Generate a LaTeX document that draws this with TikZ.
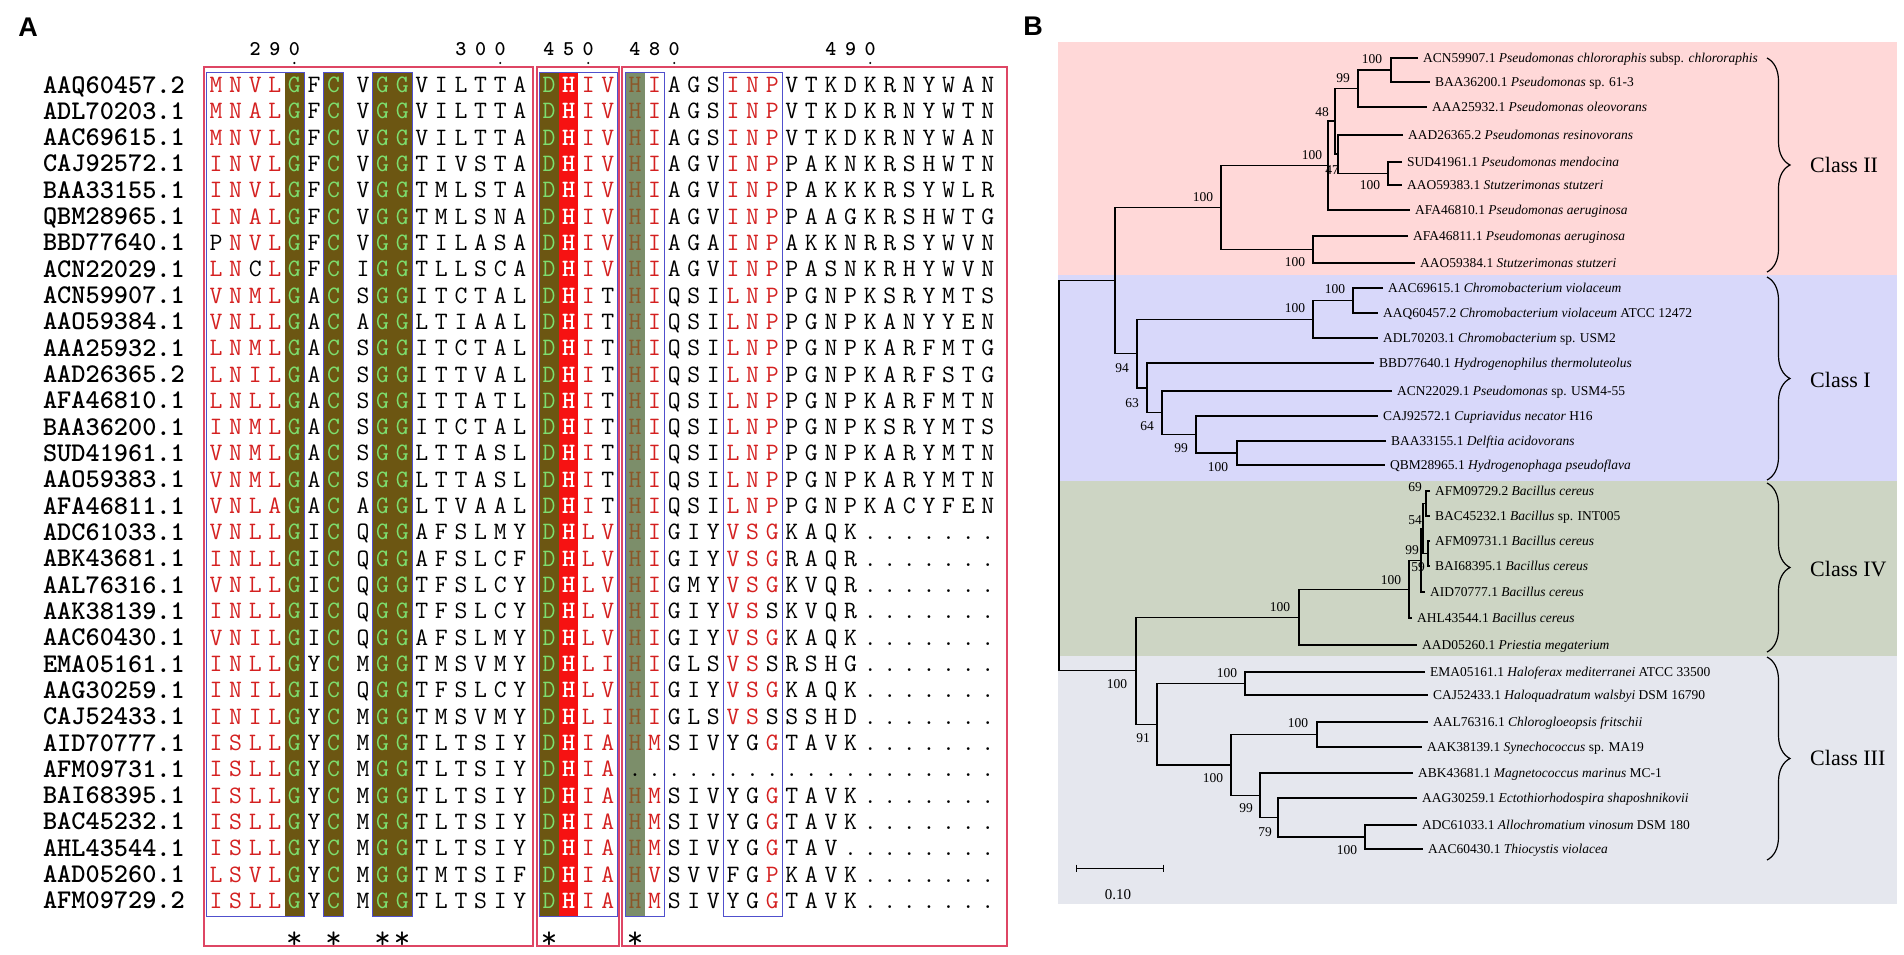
\documentclass[tikz,border=0pt]{standalone}
\usepackage{fontspec}
\setmainfont{Liberation Serif}
\newfontfamily\panelfont{Liberation Sans}
\usetikzlibrary{decorations.pathreplacing}

\definecolor{seqred}{RGB}{212,32,32}
\definecolor{seqgreen}{RGB}{125,222,110}
\definecolor{olivebg}{RGB}{108,86,18}
\definecolor{hisbg}{RGB}{246,18,18}
\definecolor{sagebg}{RGB}{124,142,106}
\definecolor{sageletter}{RGB}{140,86,40}
\definecolor{boxred}{RGB}{222,70,100}
\definecolor{boxblue}{RGB}{80,80,205}
\definecolor{classII}{RGB}{255,216,216}
\definecolor{classI}{RGB}{216,216,250}
\definecolor{classIV}{RGB}{205,213,196}
\definecolor{classIII}{RGB}{229,231,238}

\tikzset{
  res/.style={inner sep=0pt, text height=15pt, text depth=0pt, font=\fontsize{25}{25}\selectfont\ttfamily},
  resbold/.style={res, font=\fontsize{25}{25}\selectfont\ttfamily\bfseries},
  colnum/.style={inner sep=0pt, text height=12.5pt, text depth=0pt, font=\fontsize{21}{21}\selectfont\ttfamily\bfseries},
  starmark/.style={inner sep=0pt, text height=14.5pt, text depth=0pt, font=\fontsize{32}{32}\selectfont\ttfamily},
  seqname/.style={anchor=east, inner sep=0pt, text height=16pt, text depth=0pt, font=\fontsize{27}{27}\selectfont\ttfamily\bfseries},
  simbox/.style={draw=boxblue, line width=0.9pt},
  blockbox/.style={draw=boxred, line width=1.2pt},
  panellbl/.style={inner sep=0pt, font=\fontsize{27}{27}\selectfont\panelfont\bfseries},
  leafname/.style={anchor=west, inner xsep=5pt, inner ysep=0pt, text height=9.5pt, text depth=1pt, font=\fontsize{13.5}{14}\selectfont},
  boot/.style={inner sep=0pt, font=\fontsize{13.5}{14}\selectfont},
  edgeline/.style={line width=1.2pt},
  classlbl/.style={anchor=west, inner sep=0pt, font=\fontsize{22}{22}\selectfont},
  classbrace/.style={decorate, decoration={brace, amplitude=23pt}, line width=1.2pt}
}

\def\tK{tK}
\def\tR{tR}
\newcount\resnode
\newcommand\colx[1]{%
  \ifnum#1<7 \pgfmathsetmacro\resx{216+19.6*#1}%
  \else\ifnum#1<16 \pgfmathsetmacro\resx{363+19.6*(#1-7)}%
  \else\ifnum#1<20 \pgfmathsetmacro\resx{549+19.6*(#1-16)}%
  \else\pgfmathsetmacro\resx{635+19.6*(#1-20)}\fi\fi\fi}
\newcommand\resrun[5][res]{%
  \tikzset{resnow/.style={#1}}%
  \colx{#3}\pgfmathsetmacro\resy{#2}\def\rescol{#4}%
  \resloop#5\relax}
\def\resloop#1{%
  \ifx#1\relax\else
    \ifx#1\tK\def\rescol{black}\else
    \ifx#1\tR\def\rescol{seqred}\else
      \global\advance\resnode by 1
      \node[resnow, text=\rescol] (res\the\resnode) at (\resx,\resy) {#1};%
      \pgfmathsetmacro\resx{\resx+19.6}%
    \fi\fi
    \expandafter\resloop
  \fi}
\newcommand\alnrow[9]{%
  \pgfmathsetmacro\rowy{85+26.32*#1}%
  \resrun{\rowy}{0}{seqred}{#2}%
  \resrun{\rowy}{5}{black}{#3}%
  \resrun{\rowy}{7}{black}{#4}%
  \resrun{\rowy}{10}{black}{#5}%
  \resrun{\rowy}{18}{seqred}{#6}%
  \resrun{\rowy}{21}{seqred}{#7}%
  \resrun{\rowy}{25}{seqred}{#8}%
  \resrun{\rowy}{28}{black}{#9}}

\begin{document}
\begin{tikzpicture}[x=1pt,y=-1pt]
\useasboundingbox (0,0) rectangle (1904,954);

\node[panellbl] (pA) at (28,27) {A};
\node[panellbl] (pB) at (1033,26) {B};

% alignment
\fill[olivebg] (284.6,72) rectangle (304.2,916);
\fill[olivebg] (323.8,72) rectangle (343.4,916);
\fill[olivebg] (372.8,72) rectangle (412,916);
\fill[olivebg] (539.2,72) rectangle (558.8,916);
\fill[hisbg] (558.8,72) rectangle (578.4,916);
\fill[sagebg] (625.2,72) rectangle (644.8,916);
\draw[simbox] (206,72) rectangle (304.2,916);
\draw[simbox] (323.8,72) rectangle (343.4,916);
\draw[simbox] (372.8,72) rectangle (412,916);
\draw[simbox] (539.2,72) rectangle (617,916);
\draw[simbox] (625.2,72) rectangle (664.4,916);
\draw[simbox] (723.2,72) rectangle (782,916);
\draw[blockbox] (204,67) rectangle (533,946);
\draw[blockbox] (537,67) rectangle (619,946);
\draw[blockbox] (622,67) rectangle (1007,946);

\resrun[colnum]{49}{2}{black}{290}
\resrun[colnum]{49}{12}{black}{300}
\resrun[colnum]{49}{16}{black}{450}
\resrun[colnum]{49}{20}{black}{480}
\resrun[colnum]{49}{30}{black}{490}
\foreach \x in {294.4,500.2,588.2,674.2,870.2}
  \fill (\x,63) circle (1.2);

\foreach \n [count=\i from 0] in {AAQ60457.2,ADL70203.1,AAC69615.1,CAJ92572.1,BAA33155.1,QBM28965.1,BBD77640.1,ACN22029.1,ACN59907.1,AAO59384.1,AAA25932.1,AAD26365.2,AFA46810.1,BAA36200.1,SUD41961.1,AAO59383.1,AFA46811.1,ADC61033.1,ABK43681.1,AAL76316.1,AAK38139.1,AAC60430.1,EMA05161.1,AAG30259.1,CAJ52433.1,AID70777.1,AFM09731.1,BAI68395.1,BAC45232.1,AHL43544.1,AAD05260.1,AFM09729.2}
  \node[seqname] (acc\i) at (185,85+26.32*\i) {\n};

\foreach \i in {0,...,31}{
  \pgfmathsetmacro\rowy{85+26.32*\i}
  \resrun{\rowy}{4}{seqgreen}{G}
  \resrun{\rowy}{6}{seqgreen}{C}
  \resrun{\rowy}{8}{seqgreen}{GG}
  \resrun{\rowy}{16}{seqgreen}{D}
  \resrun[resbold]{\rowy}{17}{white}{H}
}
\foreach \i in {0,...,25,27,28,29,30,31}{
  \pgfmathsetmacro\rowy{85+26.32*\i}
  \resrun{\rowy}{20}{sageletter}{H}
}
\resrun{85+26.32*26}{20}{black}{.}

\alnrow{0}{MNVL}{F}{V}{VILTTA}{IV}{I\tK AGS}{INP}{VTKDKRNYWAN}
\alnrow{1}{MNAL}{F}{V}{VILTTA}{IV}{I\tK AGS}{INP}{VTKDKRNYWTN}
\alnrow{2}{MNVL}{F}{V}{VILTTA}{IV}{I\tK AGS}{INP}{VTKDKRNYWAN}
\alnrow{3}{INVL}{F}{V}{TIVSTA}{IV}{I\tK AGV}{INP}{PAKNKRSHWTN}
\alnrow{4}{INVL}{F}{V}{TMLSTA}{IV}{I\tK AGV}{INP}{PAKKKRSYWLR}
\alnrow{5}{INAL}{F}{V}{TMLSNA}{IV}{I\tK AGV}{INP}{PAAGKRSHWTG}
\alnrow{6}{\tK P\tR NVL}{F}{V}{TILASA}{IV}{I\tK AGA}{INP}{AKKNRRSYWVN}
\alnrow{7}{LN\tK C\tR L}{F}{I}{TLLSCA}{IV}{I\tK AGV}{INP}{PASNKRHYWVN}
\alnrow{8}{VNML}{A}{S}{ITCTAL}{I\tK T}{I\tK QSI}{LNP}{PGNPKSRYMTS}
\alnrow{9}{VNLL}{A}{A}{LTIAAL}{I\tK T}{I\tK QSI}{LNP}{PGNPKANYYEN}
\alnrow{10}{LNML}{A}{S}{ITCTAL}{I\tK T}{I\tK QSI}{LNP}{PGNPKARFMTG}
\alnrow{11}{LNIL}{A}{S}{ITTVAL}{I\tK T}{I\tK QSI}{LNP}{PGNPKARFSTG}
\alnrow{12}{LNLL}{A}{S}{ITTATL}{I\tK T}{I\tK QSI}{LNP}{PGNPKARFMTN}
\alnrow{13}{INML}{A}{S}{ITCTAL}{I\tK T}{I\tK QSI}{LNP}{PGNPKSRYMTS}
\alnrow{14}{VNML}{A}{S}{LTTASL}{I\tK T}{I\tK QSI}{LNP}{PGNPKARYMTN}
\alnrow{15}{VNML}{A}{S}{LTTASL}{I\tK T}{I\tK QSI}{LNP}{PGNPKARYMTN}
\alnrow{16}{VNLA}{A}{A}{LTVAAL}{I\tK T}{I\tK QSI}{LNP}{PGNPKACYFEN}
\alnrow{17}{VNLL}{I}{Q}{AFSLMY}{LV}{I\tK GIY}{VSG}{KAQK.......}
\alnrow{18}{INLL}{I}{Q}{AFSLCF}{LV}{I\tK GIY}{VSG}{RAQR.......}
\alnrow{19}{VNLL}{I}{Q}{TFSLCY}{LV}{I\tK GMY}{VSG}{KVQR.......}
\alnrow{20}{INLL}{I}{Q}{TFSLCY}{LV}{I\tK GIY}{VS\tK S}{KVQR.......}
\alnrow{21}{VNIL}{I}{Q}{AFSLMY}{LV}{I\tK GIY}{VSG}{KAQK.......}
\alnrow{22}{INLL}{Y}{M}{TMSVMY}{LI}{I\tK GLS}{VS\tK S}{RSHG.......}
\alnrow{23}{INIL}{I}{Q}{TFSLCY}{LV}{I\tK GIY}{VSG}{KAQK.......}
\alnrow{24}{INIL}{Y}{M}{TMSVMY}{LI}{I\tK GLS}{VS\tK S}{SSHD.......}
\alnrow{25}{ISLL}{Y}{M}{TLTSIY}{IA}{M\tK SIV}{\tK YG\tR G}{TAVK.......}
\alnrow{26}{ISLL}{Y}{M}{TLTSIY}{IA}{\tK ....}{\tK ...}{...........}
\alnrow{27}{ISLL}{Y}{M}{TLTSIY}{IA}{M\tK SIV}{\tK YG\tR G}{TAVK.......}
\alnrow{28}{ISLL}{Y}{M}{TLTSIY}{IA}{M\tK SIV}{\tK YG\tR G}{TAVK.......}
\alnrow{29}{ISLL}{Y}{M}{TLTSIY}{IA}{M\tK SIV}{\tK YG\tR G}{TAV........}
\alnrow{30}{LSVL}{Y}{M}{TMTSIF}{IA}{V\tK SVV}{\tK FG\tR P}{KAVK.......}
\alnrow{31}{ISLL}{Y}{M}{TLTSIY}{IA}{M\tK SIV}{\tK YG\tR G}{TAVK.......}

\resrun[starmark]{941}{4}{black}{*}
\resrun[starmark]{941}{6}{black}{*}
\resrun[starmark]{941}{8}{black}{**}
\resrun[starmark]{941}{16}{black}{*}
\resrun[starmark]{941}{20}{black}{*}

% tree
\fill[classII] (1058,42) rectangle (1897,275);
\fill[classI] (1058,275) rectangle (1897,481);
\fill[classIV] (1058,481) rectangle (1897,656);
\fill[classIII] (1058,656) rectangle (1897,904);

\node[leafname] (lACN59907) at (1418,58) {ACN59907.1 \textit{Pseudomonas chlororaphis} subsp. \textit{chlororaphis}};
\node[leafname] (lBAA36200) at (1430,82) {BAA36200.1 \textit{Pseudomonas} sp. 61-3};
\node[leafname] (lAAA25932) at (1427,107) {AAA25932.1 \textit{Pseudomonas oleovorans}};
\node[leafname] (lAAD26365) at (1403,135) {AAD26365.2 \textit{Pseudomonas resinovorans}};
\node[leafname] (lSUD41961) at (1402,162) {SUD41961.1 \textit{Pseudomonas mendocina}};
\node[leafname] (lAAO59383) at (1402,185) {AAO59383.1 \textit{Stutzerimonas stutzeri}};
\node[leafname] (lAFA46810) at (1410,210) {AFA46810.1 \textit{Pseudomonas aeruginosa}};
\node[leafname] (lAFA46811) at (1408,236) {AFA46811.1 \textit{Pseudomonas aeruginosa}};
\node[leafname] (lAAO59384) at (1415,263) {AAO59384.1 \textit{Stutzerimonas stutzeri}};
\node[leafname] (lAAC69615) at (1383,288) {AAC69615.1 \textit{Chromobacterium violaceum}};
\node[leafname] (lAAQ60457) at (1378,313) {AAQ60457.2 \textit{Chromobacterium violaceum} ATCC 12472};
\node[leafname] (lADL70203) at (1378,338) {ADL70203.1 \textit{Chromobacterium} sp. USM2};
\node[leafname] (lBBD77640) at (1374,363) {BBD77640.1 \textit{Hydrogenophilus thermoluteolus}};
\node[leafname] (lACN22029) at (1392,391) {ACN22029.1 \textit{Pseudomonas} sp. USM4-55};
\node[leafname] (lCAJ92572) at (1378,416) {CAJ92572.1 \textit{Cupriavidus necator} H16};
\node[leafname] (lBAA33155) at (1386,441) {BAA33155.1 \textit{Delftia acidovorans}};
\node[leafname] (lQBM28965) at (1385,465) {QBM28965.1 \textit{Hydrogenophaga pseudoflava}};
\node[leafname] (lAFM09729) at (1430,491) {AFM09729.2 \textit{Bacillus cereus}};
\node[leafname] (lBAC45232) at (1430,516) {BAC45232.1 \textit{Bacillus} sp. INT005};
\node[leafname] (lAFM09731) at (1430,541) {AFM09731.1 \textit{Bacillus cereus}};
\node[leafname] (lBAI68395) at (1430,566) {BAI68395.1 \textit{Bacillus cereus}};
\node[leafname] (lAID70777) at (1425,592) {AID70777.1 \textit{Bacillus cereus}};
\node[leafname] (lAHL43544) at (1412,618) {AHL43544.1 \textit{Bacillus cereus}};
\node[leafname] (lAAD05260) at (1417,645) {AAD05260.1 \textit{Priestia megaterium}};
\node[leafname] (lEMA05161) at (1425,672) {EMA05161.1 \textit{Haloferax mediterranei} ATCC 33500};
\node[leafname] (lCAJ52433) at (1428,695) {CAJ52433.1 \textit{Haloquadratum walsbyi} DSM 16790};
\node[leafname] (lAAL76316) at (1428,722) {AAL76316.1 \textit{Chlorogloeopsis fritschii}};
\node[leafname] (lAAK38139) at (1422,747) {AAK38139.1 \textit{Synechococcus} sp. MA19};
\node[leafname] (lABK43681) at (1413,773) {ABK43681.1 \textit{Magnetococcus marinus} MC-1};
\node[leafname] (lAAG30259) at (1417,798) {AAG30259.1 \textit{Ectothiorhodospira shaposhnikovii}};
\node[leafname] (lADC61033) at (1417,825) {ADC61033.1 \textit{Allochromatium vinosum} DSM 180};
\node[leafname] (lAAC60430) at (1423,849) {AAC60430.1 \textit{Thiocystis violacea}};

\coordinate (nII1) at (1391,70);
\coordinate (nII2) at (1358,88.5);
\coordinate (nII3) at (1388,173.5);
\coordinate (nII4) at (1338,154);
\coordinate (nII5) at (1335,121);
\coordinate (nII6) at (1328,165.5);
\coordinate (nII7) at (1313,249.5);
\coordinate (nII8) at (1221,207.5);
\coordinate (nIa) at (1353,300.5);
\coordinate (nIb) at (1313,319.2);
\coordinate (nIc) at (1237,453);
\coordinate (nId) at (1196,434.5);
\coordinate (nIe) at (1162,412.7);
\coordinate (nIf) at (1147,387.9);
\coordinate (nIg) at (1137,353.6);
\coordinate (nA) at (1115,280.5);
\coordinate (nIVa) at (1426,503.5);
\coordinate (nIVb) at (1428,553.5);
\coordinate (nIVc) at (1423,528.5);
\coordinate (nIVd) at (1421,560.2);
\coordinate (nIVe) at (1409,589.1);
\coordinate (nIVf) at (1299,617.1);
\coordinate (nIIIa) at (1245,683.5);
\coordinate (nIIIb) at (1317,734.5);
\coordinate (nIIIc) at (1365,837);
\coordinate (nIIId) at (1278,817.5);
\coordinate (nIIIe) at (1260,795.2);
\coordinate (nIIIf) at (1231,764.9);
\coordinate (nIIIg) at (1157,724.2);
\coordinate (nM) at (1136,670.6);
\coordinate (nRoot) at (1059,475.6);

\draw[edgeline] (lACN59907.west) -| (nII1) |- (lBAA36200.west);
\draw[edgeline] (nII1) -| (nII2) |- (lAAA25932.west);
\draw[edgeline] (lSUD41961.west) -| (nII3) |- (lAAO59383.west);
\draw[edgeline] (lAAD26365.west) -| (nII4) |- (nII3);
\draw[edgeline] (nII2) -| (nII5) |- (nII4);
\draw[edgeline] (nII5) -| (nII6) |- (lAFA46810.west);
\draw[edgeline] (lAFA46811.west) -| (nII7) |- (lAAO59384.west);
\draw[edgeline] (nII6) -| (nII8) |- (nII7);
\draw[edgeline] (lAAC69615.west) -| (nIa) |- (lAAQ60457.west);
\draw[edgeline] (nIa) -| (nIb) |- (lADL70203.west);
\draw[edgeline] (lBAA33155.west) -| (nIc) |- (lQBM28965.west);
\draw[edgeline] (lCAJ92572.west) -| (nId) |- (nIc);
\draw[edgeline] (lACN22029.west) -| (nIe) |- (nId);
\draw[edgeline] (lBBD77640.west) -| (nIf) |- (nIe);
\draw[edgeline] (nIb) -| (nIg) |- (nIf);
\draw[edgeline] (nII8) -| (nA) |- (nIg);
\draw[edgeline] (lAFM09729.west) -| (nIVa) |- (lBAC45232.west);
\draw[edgeline] (lAFM09731.west) -| (nIVb) |- (lBAI68395.west);
\draw[edgeline] (nIVa) -| (nIVc) |- (nIVb);
\draw[edgeline] (nIVc) -| (nIVd) |- (lAID70777.west);
\draw[edgeline] (nIVd) -| (nIVe) |- (lAHL43544.west);
\draw[edgeline] (nIVe) -| (nIVf) |- (lAAD05260.west);
\draw[edgeline] (lEMA05161.west) -| (nIIIa) |- (lCAJ52433.west);
\draw[edgeline] (lAAL76316.west) -| (nIIIb) |- (lAAK38139.west);
\draw[edgeline] (lADC61033.west) -| (nIIIc) |- (lAAC60430.west);
\draw[edgeline] (lAAG30259.west) -| (nIIId) |- (nIIIc);
\draw[edgeline] (lABK43681.west) -| (nIIIe) |- (nIIId);
\draw[edgeline] (nIIIb) -| (nIIIf) |- (nIIIe);
\draw[edgeline] (nIIIa) -| (nIIIg) |- (nIIIf);
\draw[edgeline] (nIVf) -| (nM) |- (nIIIg);
\draw[edgeline] (nA) -| (nRoot) |- (nM);

\node[boot] (bII1) at (1372,59) {100};
\node[boot] (bII2) at (1343,78) {99};
\node[boot] (bII5) at (1322,112) {48};
\node[boot] (bII4) at (1332,170) {47};
\node[boot] (bII3) at (1370,185) {100};
\node[boot] (bII6) at (1312,155) {100};
\node[boot] (bII8) at (1203,197) {100};
\node[boot] (bII7) at (1295,262) {100};
\node[boot] (bIa) at (1335,289) {100};
\node[boot] (bIb) at (1295,308) {100};
\node[boot] (bIg) at (1122,368) {94};
\node[boot] (bIf) at (1132,403) {63};
\node[boot] (bIe) at (1147,426) {64};
\node[boot] (bId) at (1181,448) {99};
\node[boot] (bIc) at (1218,467) {100};
\node[boot] (bIVa) at (1415,487) {69};
\node[boot] (bIVc) at (1415,520) {54};
\node[boot] (bIVd) at (1412,550) {99};
\node[boot] (bIVb) at (1418,567) {59};
\node[boot] (bIVe) at (1391,580) {100};
\node[boot] (bIVf) at (1280,607) {100};
\node[boot] (bIIIa) at (1227,673) {100};
\node[boot] (bIIIb) at (1298,723) {100};
\node[boot] (bIIIf) at (1213,778) {100};
\node[boot] (bIIIe) at (1246,808) {99};
\node[boot] (bIIId) at (1265,832) {79};
\node[boot] (bIIIc) at (1347,850) {100};
\node[boot] (bIIIg) at (1143,738) {91};
\node[boot] (bM) at (1117,684) {100};

\coordinate (sbL) at (1076,868);
\coordinate (sbR) at (1163,868);
\draw[line width=1pt] (sbL) -- (sbR);
\draw[line width=1pt] (sbL) ++(0,-3.5) -- ++(0,7);
\draw[line width=1pt] (sbR) ++(0,-3.5) -- ++(0,7);
\node[boot, font=\fontsize{15}{15}\selectfont] (sbT) at (1118,895) {0.10};

\coordinate (brIIt) at (1767,58);
\coordinate (brIIb) at (1767,272);
\coordinate (brIt) at (1767,277);
\coordinate (brIb) at (1767,480);
\coordinate (brIVt) at (1767,483);
\coordinate (brIVb) at (1767,652);
\coordinate (brIIIt) at (1767,657);
\coordinate (brIIIb) at (1767,860);
\draw[classbrace] (brIIt) -- (brIIb);
\draw[classbrace] (brIt) -- (brIb);
\draw[classbrace] (brIVt) -- (brIVb);
\draw[classbrace] (brIIIt) -- (brIIIb);
\node[classlbl] (cII) at (1810,165) {Class II};
\node[classlbl] (cI) at (1810,380) {Class I};
\node[classlbl] (cIV) at (1810,569) {Class IV};
\node[classlbl] (cIII) at (1810,758) {Class III};
\end{tikzpicture}
\end{document}
